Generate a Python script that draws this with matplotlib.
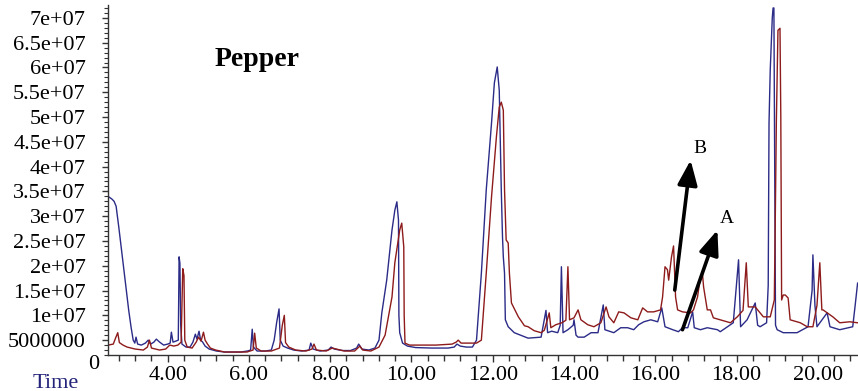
import matplotlib
matplotlib.use("Agg")
import matplotlib.pyplot as plt
import matplotlib.transforms as mtransforms
from matplotlib.ticker import MultipleLocator, FixedLocator
import numpy as np

# ---------------- data (time in min, intensity in 1e6 counts) ----------------
blue_t = [2.53, 2.62, 2.68, 2.73, 2.80, 2.88, 2.96, 3.04, 3.10, 3.15, 3.19, 3.22, 3.26, 3.35, 3.45,
          3.52, 3.58, 3.66, 3.72, 3.80, 3.90, 4.00, 4.06, 4.09, 4.13, 4.20, 4.26, 4.28, 4.30, 4.32,
          4.35, 4.45, 4.55, 4.62, 4.68, 4.72, 4.77, 4.81, 4.86, 4.92, 5.02, 5.20, 5.40, 5.60, 5.80,
          5.96, 6.04, 6.08, 6.11, 6.20, 6.40, 6.55, 6.62, 6.68, 6.74, 6.77, 6.84, 6.95, 7.10, 7.30,
          7.48, 7.52, 7.58, 7.75, 7.95, 8.02, 8.10, 8.30, 8.50, 8.65, 8.70, 8.78, 8.95, 9.10, 9.20,
          9.27, 9.39, 9.52, 9.59, 9.64, 9.68, 9.69, 9.71, 9.78, 9.90, 10.10, 10.50, 10.90, 11.05, 11.12,
          11.20, 11.35, 11.50, 11.60, 11.72, 11.84, 11.97, 12.04, 12.11, 12.16, 12.21, 12.24, 12.26, 12.29, 12.31,
          12.38, 12.53, 12.87, 13.19, 13.31, 13.35, 13.45, 13.60, 13.66, 13.69, 13.73, 13.85, 13.98, 14.00, 14.05,
          14.10, 14.25, 14.42, 14.59, 14.72, 14.76, 14.98, 15.15, 15.32, 15.47, 15.59, 15.72, 15.89, 16.06, 16.16,
          16.24, 16.43, 16.57, 16.67, 16.80, 16.92, 16.96, 17.11, 17.28, 17.53, 17.60, 17.92, 18.05, 18.10, 18.26,
          18.46, 18.52, 18.58, 18.74, 18.78, 18.80, 18.83, 18.88, 18.90, 18.92, 18.94, 18.96, 19.00, 19.15, 19.25,
          19.49, 19.76, 19.86, 19.88, 19.93, 19.98, 20.23, 20.30, 20.54, 20.86, 20.92, 20.98]
blue_v = [34.0, 33.5, 33.0, 32.0, 27.5, 22.0, 16.5, 11.0, 7.5, 5.0, 4.4, 5.6, 4.2, 4.0, 4.4,
          5.0, 4.2, 4.6, 5.2, 4.6, 4.0, 4.2, 4.4, 6.6, 4.6, 4.8, 5.0, 21.8, 20.5, 8.0,
          4.2, 3.6, 3.6, 4.6, 6.2, 5.2, 6.8, 5.0, 4.6, 3.8, 3.2, 2.8, 2.6, 2.6, 2.6,
          2.8, 3.0, 7.2, 3.6, 2.8, 2.8, 3.0, 5.0, 8.5, 11.3, 5.0, 3.8, 3.4, 3.0, 2.8,
          3.0, 4.4, 3.2, 2.8, 3.0, 3.6, 3.2, 2.9, 2.9, 3.4, 4.2, 3.2, 3.0, 3.4, 5.0,
          10.5, 17.1, 27.2, 31.2, 32.9, 29.2, 10.0, 6.5, 4.4, 3.8, 3.5, 3.4, 3.4, 3.6, 4.2,
          3.8, 3.6, 3.6, 5.0, 18.5, 35.3, 48.8, 56.9, 60.1, 55.4, 35.3, 25.8, 21.8, 18.5, 9.1,
          7.7, 6.5, 5.4, 5.6, 11.0, 6.5, 6.8, 6.5, 8.0, 19.8, 6.5, 7.1, 8.0, 9.1, 6.0,
          5.6, 5.6, 6.5, 6.5, 12.1, 7.1, 6.5, 7.5, 7.5, 7.1, 8.1, 8.7, 9.1, 8.7, 11.5,
          7.7, 7.1, 6.7, 7.5, 7.5, 10.7, 7.5, 7.1, 7.5, 7.1, 6.7, 8.5, 21.2, 7.7, 9.1,
          12.5, 8.0, 7.7, 8.5, 16.0, 48.8, 59.5, 70.0, 72.0, 72.0, 40.0, 8.0, 7.1, 6.5, 6.5,
          6.5, 7.7, 15.0, 22.2, 12.0, 7.7, 10.5, 7.7, 7.1, 7.7, 12.0, 16.5]

red_t = [2.53, 2.66, 2.72, 2.77, 2.81, 2.90, 3.00, 3.20, 3.40, 3.50, 3.55, 3.60, 3.80, 3.95, 4.05,
         4.15, 4.25, 4.33, 4.37, 4.40, 4.42, 4.48, 4.60, 4.70, 4.76, 4.82, 4.88, 4.92, 4.98, 5.05,
         5.18, 5.40, 5.70, 5.95, 6.10, 6.14, 6.18, 6.30, 6.55, 6.75, 6.82, 6.87, 6.90, 6.98, 7.15,
         7.40, 7.55, 7.60, 7.66, 7.90, 8.05, 8.15, 8.35, 8.60, 8.73, 8.80, 9.00, 9.20, 9.35, 9.52,
         9.59, 9.71, 9.76, 9.81, 9.82, 9.84, 9.95, 10.20, 10.60, 11.00, 11.10, 11.15, 11.22, 11.40, 11.60,
         11.72, 11.84, 11.97, 12.09, 12.16, 12.21, 12.26, 12.29, 12.33, 12.38, 12.41, 12.46, 12.63, 12.78, 12.87,
         13.02, 13.19, 13.27, 13.39, 13.43, 13.55, 13.70, 13.80, 13.85, 13.89, 14.00, 14.10, 14.17, 14.34, 14.49,
         14.66, 14.79, 14.86, 14.98, 15.10, 15.23, 15.40, 15.57, 15.69, 15.81, 15.96, 16.13, 16.18, 16.24, 16.30,
         16.33, 16.40, 16.45, 16.50, 16.55, 16.67, 16.87, 16.94, 17.04, 17.11, 17.16, 17.19, 17.28, 17.36, 17.43,
         17.60, 17.85, 18.02, 18.16, 18.24, 18.29, 18.46, 18.66, 18.83, 18.93, 18.95, 18.98, 19.02, 19.07, 19.09,
         19.11, 19.15, 19.20, 19.27, 19.32, 19.57, 19.74, 19.88, 19.98, 20.05, 20.10, 20.13, 20.37, 20.54, 20.79,
         20.98]
red_v = [4.0, 4.2, 5.5, 6.5, 4.5, 4.0, 3.6, 3.2, 3.0, 3.6, 5.0, 3.4, 3.0, 3.2, 4.0,
         3.8, 4.0, 4.6, 19.4, 18.0, 5.0, 3.6, 3.4, 4.6, 5.6, 4.8, 6.6, 5.0, 4.2, 3.4,
         3.0, 2.6, 2.6, 2.6, 3.0, 6.4, 3.4, 2.8, 2.8, 3.4, 8.0, 10.0, 4.5, 3.6, 3.0,
         2.8, 3.2, 4.2, 3.0, 2.8, 3.4, 3.2, 2.8, 2.8, 3.8, 3.0, 2.8, 3.6, 6.0, 13.7,
         20.6, 27.2, 28.6, 23.8, 10.0, 4.4, 4.0, 4.0, 4.0, 4.2, 4.6, 5.0, 4.4, 4.4, 4.4,
         5.0, 18.5, 33.9, 46.0, 52.0, 53.0, 51.4, 35.3, 25.2, 24.6, 18.5, 12.5, 9.7, 7.9, 7.7,
         6.9, 6.5, 7.0, 10.5, 7.5, 8.1, 8.5, 9.0, 19.8, 9.1, 9.5, 11.1, 9.1, 8.1, 7.7,
         8.5, 11.7, 9.7, 8.5, 10.7, 10.5, 9.5, 9.1, 11.5, 10.7, 10.7, 11.1, 13.7, 19.8, 19.2,
         17.1, 21.8, 24.0, 13.7, 11.1, 10.7, 10.5, 11.1, 13.7, 17.7, 18.5, 15.7, 11.1, 11.1, 9.5,
         9.1, 8.5, 9.7, 11.0, 20.6, 11.7, 11.7, 9.7, 9.7, 13.1, 26.6, 48.8, 67.5, 67.9, 50.0,
         13.1, 14.1, 14.1, 13.5, 9.1, 8.5, 7.7, 7.7, 12.0, 20.6, 11.1, 11.1, 9.7, 8.5, 8.7,
         8.5]

x_ticks = [4, 6, 8, 10, 12, 14, 16, 18, 20]
y_ticks = [5e6, 1e7, 1.5e7, 2e7, 2.5e7, 3e7, 3.5e7, 4e7, 4.5e7, 5e7, 5.5e7, 6e7, 6.5e7, 7e7]
y_tick_labels = ["5000000", "1e+07", "1.5e+07", "2e+07", "2.5e+07", "3e+07", "3.5e+07",
                 "4e+07", "4.5e+07", "5e+07", "5.5e+07", "6e+07", "6.5e+07", "7e+07"]

# arrows: (tail time, tail value), (head time, head value) in 1e6
arrow_B = ((16.48, 15.1), (16.87, 41.3))
arrow_A = ((16.67, 7.1), (17.53, 27.2))
label_B = (17.11, 43.7)
label_A = (17.77, 29.6)

# ---------------- plot ----------------
serif = ["Liberation Serif", "DejaVu Serif"]
plt.rcParams["font.family"] = serif

fig = plt.figure(figsize=(8.58, 3.91), dpi=100)
ax = fig.add_axes([108 / 858, 1 - 355 / 391, 750 / 858, 350 / 391])

blue_col = "#2b2b88"
red_col = "#8e1b1b"
ax.plot(blue_t, np.array(blue_v) * 1e6, color=blue_col, lw=1.0)
ax.plot(red_t, np.array(red_v) * 1e6, color=red_col, lw=1.0)

ax.set_xlim(2.53, 20.99)
ax.set_ylim(2.0e6, 72.6e6)

for s in ["top", "right"]:
    ax.spines[s].set_visible(False)
for s in ["left", "bottom"]:
    ax.spines[s].set_color("#333333")
    ax.spines[s].set_linewidth(1.0)

ax.xaxis.set_major_locator(FixedLocator(x_ticks))
ax.set_xticklabels([f"{v:.2f}" for v in x_ticks])
ax.xaxis.set_minor_locator(MultipleLocator(0.4))
ax.yaxis.set_major_locator(FixedLocator(y_ticks))
ax.set_yticklabels(y_tick_labels)
ax.yaxis.set_minor_locator(MultipleLocator(1e6))

ax.tick_params(axis="x", which="major", length=5, width=1, pad=3, labelsize=16, color="#333333")
ax.tick_params(axis="x", which="minor", length=4, width=1, color="#333333")
ax.tick_params(axis="y", which="major", length=4, width=1, pad=12, labelsize=16, color="#333333")
ax.tick_params(axis="y", which="minor", length=3, width=0.8, color="#333333")

trans = mtransforms.blended_transform_factory(ax.transAxes, ax.transData)
ax.text(-0.012, 0.0, "0", transform=trans, ha="right", va="center", fontsize=16, clip_on=False)
fig.text(56 / 858, 1 - 383 / 391, "Time", ha="center", va="center", fontsize=16, color="#23237a")

fig.text(215 / 858, 1 - 60 / 391, "Pepper", ha="left", va="center", fontsize=20, fontweight="bold")

for (tail, head) in [arrow_B, arrow_A]:
    ax.annotate("", xy=(head[0], head[1] * 1e6), xytext=(tail[0], tail[1] * 1e6),
                arrowprops=dict(arrowstyle="-|>,head_length=0.75,head_width=0.3",
                                lw=2.6, color="black", mutation_scale=20,
                                shrinkA=0, shrinkB=0))
ax.text(label_B[0], label_B[1] * 1e6, "B", fontsize=14, ha="center", va="center")
ax.text(label_A[0], label_A[1] * 1e6, "A", fontsize=14, ha="center", va="center")

fig.savefig("out.png", dpi=100)
